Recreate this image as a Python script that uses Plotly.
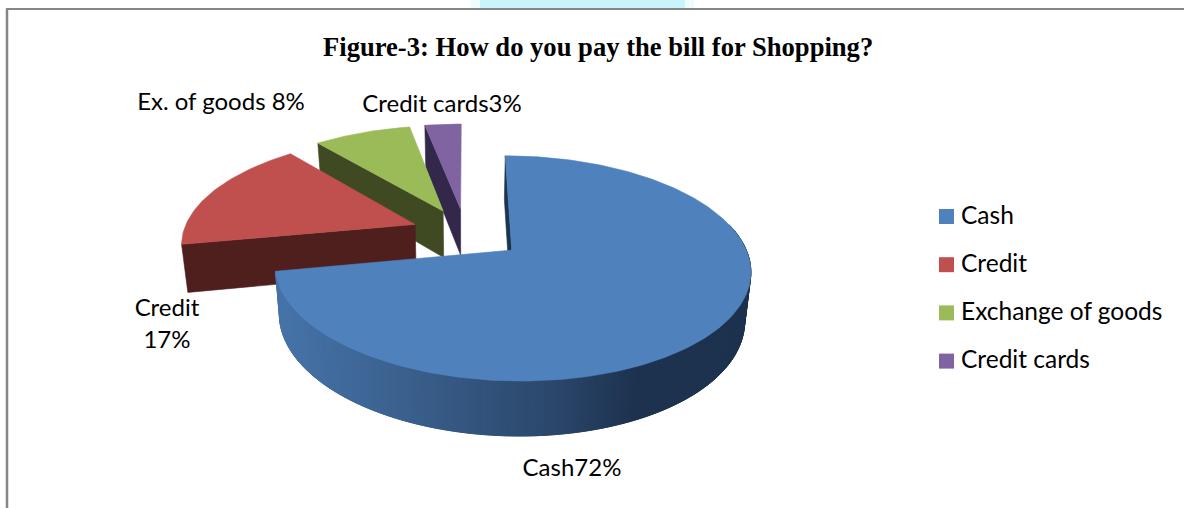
import math
import plotly.graph_objects as go

# Survey shares, in percent
categories = ["Cash", "Credit", "Exchange of goods", "Credit cards"]
shares = [72, 17, 8, 3]
top_colors = ["#4F81BD", "#C0504D", "#9BBB59", "#8064A2"]
wall_colors = ["#274060", "#4F1F1E", "#3F4A23", "#33284A"]

title_text = "Figure-3: How do you pay the bill for Shopping?"
label_lines = [["Cash72%"], ["Credit", "17%"], ["Ex. of goods 8%"], ["Credit cards3%"]]
label_anchor = [(572, 470), (167, 310), (221, 104), (442, 106)]

# View of the tilted, extruded pie
WIDTH, HEIGHT = 1184, 508
CX, CY = 465.5, 232.7   # screen position of the pie axis
RX, RY = 232, 105.6     # projected radii
PERSPECTIVE = 0.161     # how quickly the far side shrinks
DEPTH = 47.5            # thickness of the pie
BASE_SCALE = 0.978      # lower face is slightly smaller than the upper one
EXPLODE = 0.234         # outward shift of every slice, in radii
CASH_EXPLODE = 0.252    # the large slice sits a little further out
CASH_RADIUS = 0.985     # and is very slightly smaller


def project(x, y, lower=False):
    s = 1 / (1 + PERSPECTIVE * y)
    q = BASE_SCALE if lower else 1.0
    return CX + RX * x * s * q, CY + s * (-RY * y * q + (DEPTH if lower else 0))


def lerp_color(a, b, t):
    return "rgb(" + ",".join(str(round(a[i] + (b[i] - a[i]) * t)) for i in range(3)) + ")"


def wall_shade(px):
    # Lit from the left, falling off towards the right of the rim
    stops = [(282, (70, 115, 168)), (430, (56, 92, 136)), (560, (42, 70, 106)),
             (640, (29, 50, 78)), (745, (29, 50, 78))]
    for (x0, c0), (x1, c1) in zip(stops, stops[1:]):
        if px <= x1:
            return lerp_color(c0, c1, max(0.0, (px - x0) / (x1 - x0)))
    return lerp_color(stops[-1][1], stops[-1][1], 0)


fig = go.Figure()


def polygon(points, color):
    fig.add_trace(go.Scatter(
        x=[p[0] for p in points] + [points[0][0]],
        y=[p[1] for p in points] + [points[0][1]],
        mode="lines", fill="toself", fillcolor=color,
        line=dict(color=color, width=0.6),
        hoverinfo="skip", showlegend=False,
    ))


# Slice angles run clockwise from twelve o'clock
spans = []
start = 0.0
total = sum(shares)
for share in shares:
    sweep = 360.0 * share / total
    spans.append((start, start + sweep))
    start += sweep

# Far slices first so that nearer ones cover them
for idx in range(len(shares) - 1, -1, -1):
    a0, a1 = spans[idx]
    mid = math.radians((a0 + a1) / 2)
    push = CASH_EXPLODE if idx == 0 else EXPLODE
    radius = CASH_RADIUS if idx == 0 else 1.0
    ox, oy = push * math.sin(mid), push * math.cos(mid)
    n = max(8, int(a1 - a0))
    angles = [math.radians(a0 + (a1 - a0) * k / n) for k in range(n + 1)]
    rim = [(ox + radius * math.sin(t), oy + radius * math.cos(t)) for t in angles]

    if idx == 0:
        # Start edge, then the rim in overlapping bands so no seams show
        polygon([project(ox, oy), project(*rim[0]), project(*rim[0], True), project(ox, oy, True)],
                "#1D344F")
        for k in range(len(rim) - 1):
            p = rim[k]
            q = rim[min(k + 3, len(rim) - 1)]
            if p[1] < oy + 0.25:
                px = project(*p)[0]
                polygon([project(*p), project(*q), project(*q, True), project(*p, True)], wall_shade(px))
    else:
        # Visible cut face on the leading edge of each small slice
        polygon([project(ox, oy), project(*rim[0]), project(*rim[0], True), project(ox, oy, True)],
                wall_colors[idx])

    polygon([project(ox, oy)] + [project(*p) for p in rim], top_colors[idx])

# Slice labels
for lines, (lx, ly) in zip(label_lines, label_anchor):
    for k, line in enumerate(lines):
        fig.add_trace(go.Scatter(
            x=[lx], y=[ly + 32 * k], mode="text", text=[line],
            textposition="middle center",
            textfont=dict(family="Lato", size=24, color="#000000"),
            hoverinfo="skip", showlegend=False,
        ))

# Key on the right
for k, (name, color) in enumerate(zip(categories, top_colors)):
    row = 216.5 + 48.2 * k
    fig.add_trace(go.Scatter(
        x=[946.5], y=[row], mode="markers",
        marker=dict(symbol="square", size=15, color=color),
        hoverinfo="skip", showlegend=False,
    ))
    fig.add_trace(go.Scatter(
        x=[961], y=[row + 1], mode="text", text=[name], textposition="middle right",
        textfont=dict(family="Lato", size=24.5, color="#000000"),
        hoverinfo="skip", showlegend=False,
    ))

fig.update_layout(
    width=WIDTH, height=HEIGHT,
    margin=dict(l=0, r=0, t=0, b=0),
    paper_bgcolor="#FFFFFF", plot_bgcolor="#FFFFFF",
    showlegend=False,
    xaxis=dict(range=[0, WIDTH], visible=False, fixedrange=True),
    yaxis=dict(range=[HEIGHT, 0], visible=False, fixedrange=True),
    shapes=[
        dict(type="rect", xref="x", yref="y", x0=471, x1=694, y0=0, y1=8,
             fillcolor="#EFFCFE", line=dict(width=0), layer="below"),
        dict(type="rect", xref="x", yref="y", x0=480, x1=685, y0=0, y1=8,
             fillcolor="#C8F5FB", line=dict(width=0), layer="below"),
        dict(type="line", xref="x", yref="y", x0=6, x1=WIDTH, y0=9, y1=9,
             line=dict(color="#868686", width=2)),
        dict(type="line", xref="x", yref="y", x0=7, x1=7, y0=9, y1=HEIGHT,
             line=dict(color="#868686", width=2.5)),
    ],
    annotations=[dict(
        text="<b>" + title_text + "</b>", xref="x", yref="y", x=598, y=47,
        showarrow=False, xanchor="center", yanchor="middle",
        font=dict(family="Liberation Serif", size=26.6, color="#000000"),
    )],
)

fig.write_html("out.html")
